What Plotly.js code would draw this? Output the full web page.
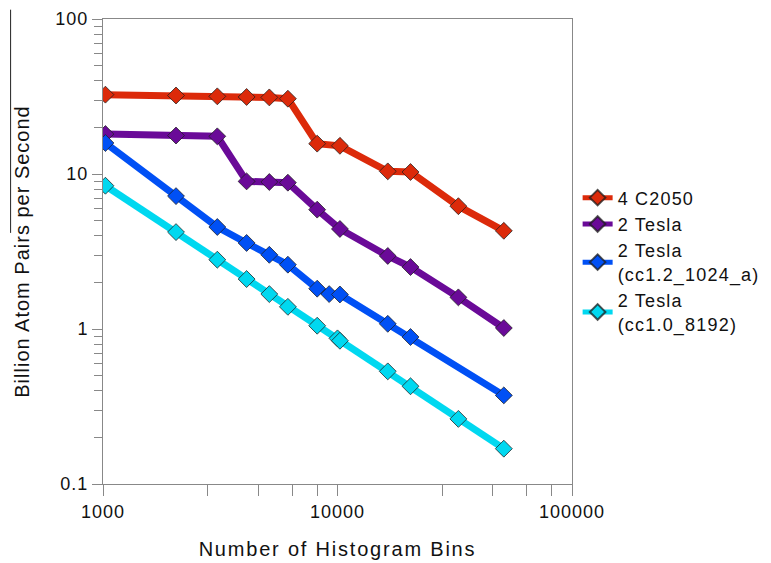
<!DOCTYPE html>
<html>
<head>
<meta charset="utf-8">
<script src="https://cdn.plot.ly/plotly-3.0.1.min.js"></script>
<style>
body { margin: 0; background: #fff; }
#chart { width: 771px; height: 563px; }
svg text { letter-spacing: 1px; }
svg text.legendtext { letter-spacing: 1.2px; }
svg text.xtitle { letter-spacing: 1.8px; }
</style>
</head>
<body>
<div id="chart"></div>
<script>
// Data
const binsMain = [1024, 2048, 3072, 4096, 5120, 6144, 8192, 10240, 16384, 20480, 32768, 51200];
const c2050 = [32.5, 32.1, 31.7, 31.4, 31.2, 30.6, 15.7, 15.2, 10.4, 10.3, 6.2, 4.3];
const tesla = [18.1, 17.7, 17.5, 8.96, 8.88, 8.79, 5.89, 4.42, 2.96, 2.51, 1.60, 1.015];

const binsCc12 = [1024, 2048, 3072, 4096, 5120, 6144, 8192, 9216, 10240, 16384, 20480, 51200];
const teslaCc12 = [15.85, 7.2, 4.55, 3.59, 3.01, 2.60, 1.82, 1.68, 1.67, 1.08, 0.888, 0.373];

const binsCc10 = [1024, 2048, 3072, 4096, 5120, 6144, 8192, 10000, 10240, 16384, 20480, 32768, 51200];
const teslaCc10 = [8.4, 4.22, 2.80, 2.10, 1.68, 1.39, 1.05, 0.87, 0.84, 0.533, 0.427, 0.263, 0.169];

const seriesNames = ["4 C2050", "2 Tesla", "2 Tesla<br>(cc1.2_1024_a)", "2 Tesla<br>(cc1.0_8192)"];
const seriesColors = ["#dc2a0a", "#6a0a98", "#0050f5", "#00d8f0"];

const xMajorTicks = [1000, 10000, 100000];
const xMajorLabels = ["1000", "10000", "100000"];
const xMinorTicks = [2800, 4600, 6400, 8200, 28000, 46000, 64000, 82000];
const yMajorTicks = [0.1, 1, 10, 100];
const yMajorLabels = ["0.1", "1", "10", "100"];
const yMinorTicks = [0.2,0.3,0.4,0.5,0.6,0.7,0.8,0.9,2,3,4,5,6,7,8,9,20,30,40,50,60,70,80,90];

const xs = [binsMain, binsMain, binsCc12, binsCc10];
const ys = [c2050, tesla, teslaCc12, teslaCc10];

const traces = ys.map((y, i) => ({
  x: xs[i], y: y, name: seriesNames[i], type: "scatter", mode: "lines+markers",
  line: { color: seriesColors[i], width: 7 },
  marker: { symbol: "diamond", size: 13, color: seriesColors[i],
            line: { color: "rgba(30,30,30,0.75)", width: 1 } }
}));

const font = { family: "Liberation Sans, Arial, sans-serif", size: 18, color: "#111" };

const layout = {
  width: 771, height: 563,
  margin: { l: 103, r: 199, t: 19, b: 79, autoexpand: false },
  paper_bgcolor: "#fff", plot_bgcolor: "#fff",
  font: font,
  showlegend: true,
  legend: { x: 1.012, xanchor: "left", y: 0.655, yanchor: "top",
            font: { family: font.family, size: 18, color: "#111" },
            bgcolor: "rgba(0,0,0,0)", itemsizing: "constant", tracegroupgap: 0 },
  xaxis: {
    type: "log", range: [3, 5], showgrid: false, zeroline: false,
    showline: true, linecolor: "#888", linewidth: 1, mirror: true,
    ticks: "outside", ticklen: 11, tickcolor: "#888",
    tickmode: "array", tickvals: xMajorTicks, ticktext: xMajorLabels,
    minor: { tickmode: "array", tickvals: xMinorTicks, ticks: "outside", ticklen: 11, tickcolor: "#888", showgrid: false },
    tickfont: { family: font.family, size: 18, color: "#111" },
    title: { text: "Number of Histogram Bins", font: { family: font.family, size: 20, color: "#111" }, standoff: 21 }
  },
  yaxis: {
    type: "log", range: [-1, 2], showgrid: false, zeroline: false,
    showline: true, linecolor: "#888", linewidth: 1, mirror: true,
    ticks: "outside", ticklen: 10, tickcolor: "#888",
    tickmode: "array", tickvals: yMajorTicks, ticktext: yMajorLabels,
    minor: { tickmode: "array", tickvals: yMinorTicks, ticks: "outside", ticklen: 8, tickcolor: "#888", showgrid: false },
    tickfont: { family: font.family, size: 18, color: "#111" },
    title: { text: "Billion Atom Pairs per Second", font: { family: font.family, size: 20, color: "#111" }, standoff: 20 }
  },
  shapes: [
    { type: "line", xref: "paper", yref: "paper", x0: -0.197, x1: -0.197, y0: 1.02, y1: 0.540,
      line: { color: "#222", width: 1 } }
  ]
};

Plotly.newPlot("chart", traces, layout, { displayModeBar: false, staticPlot: true });
</script>
</body>
</html>
